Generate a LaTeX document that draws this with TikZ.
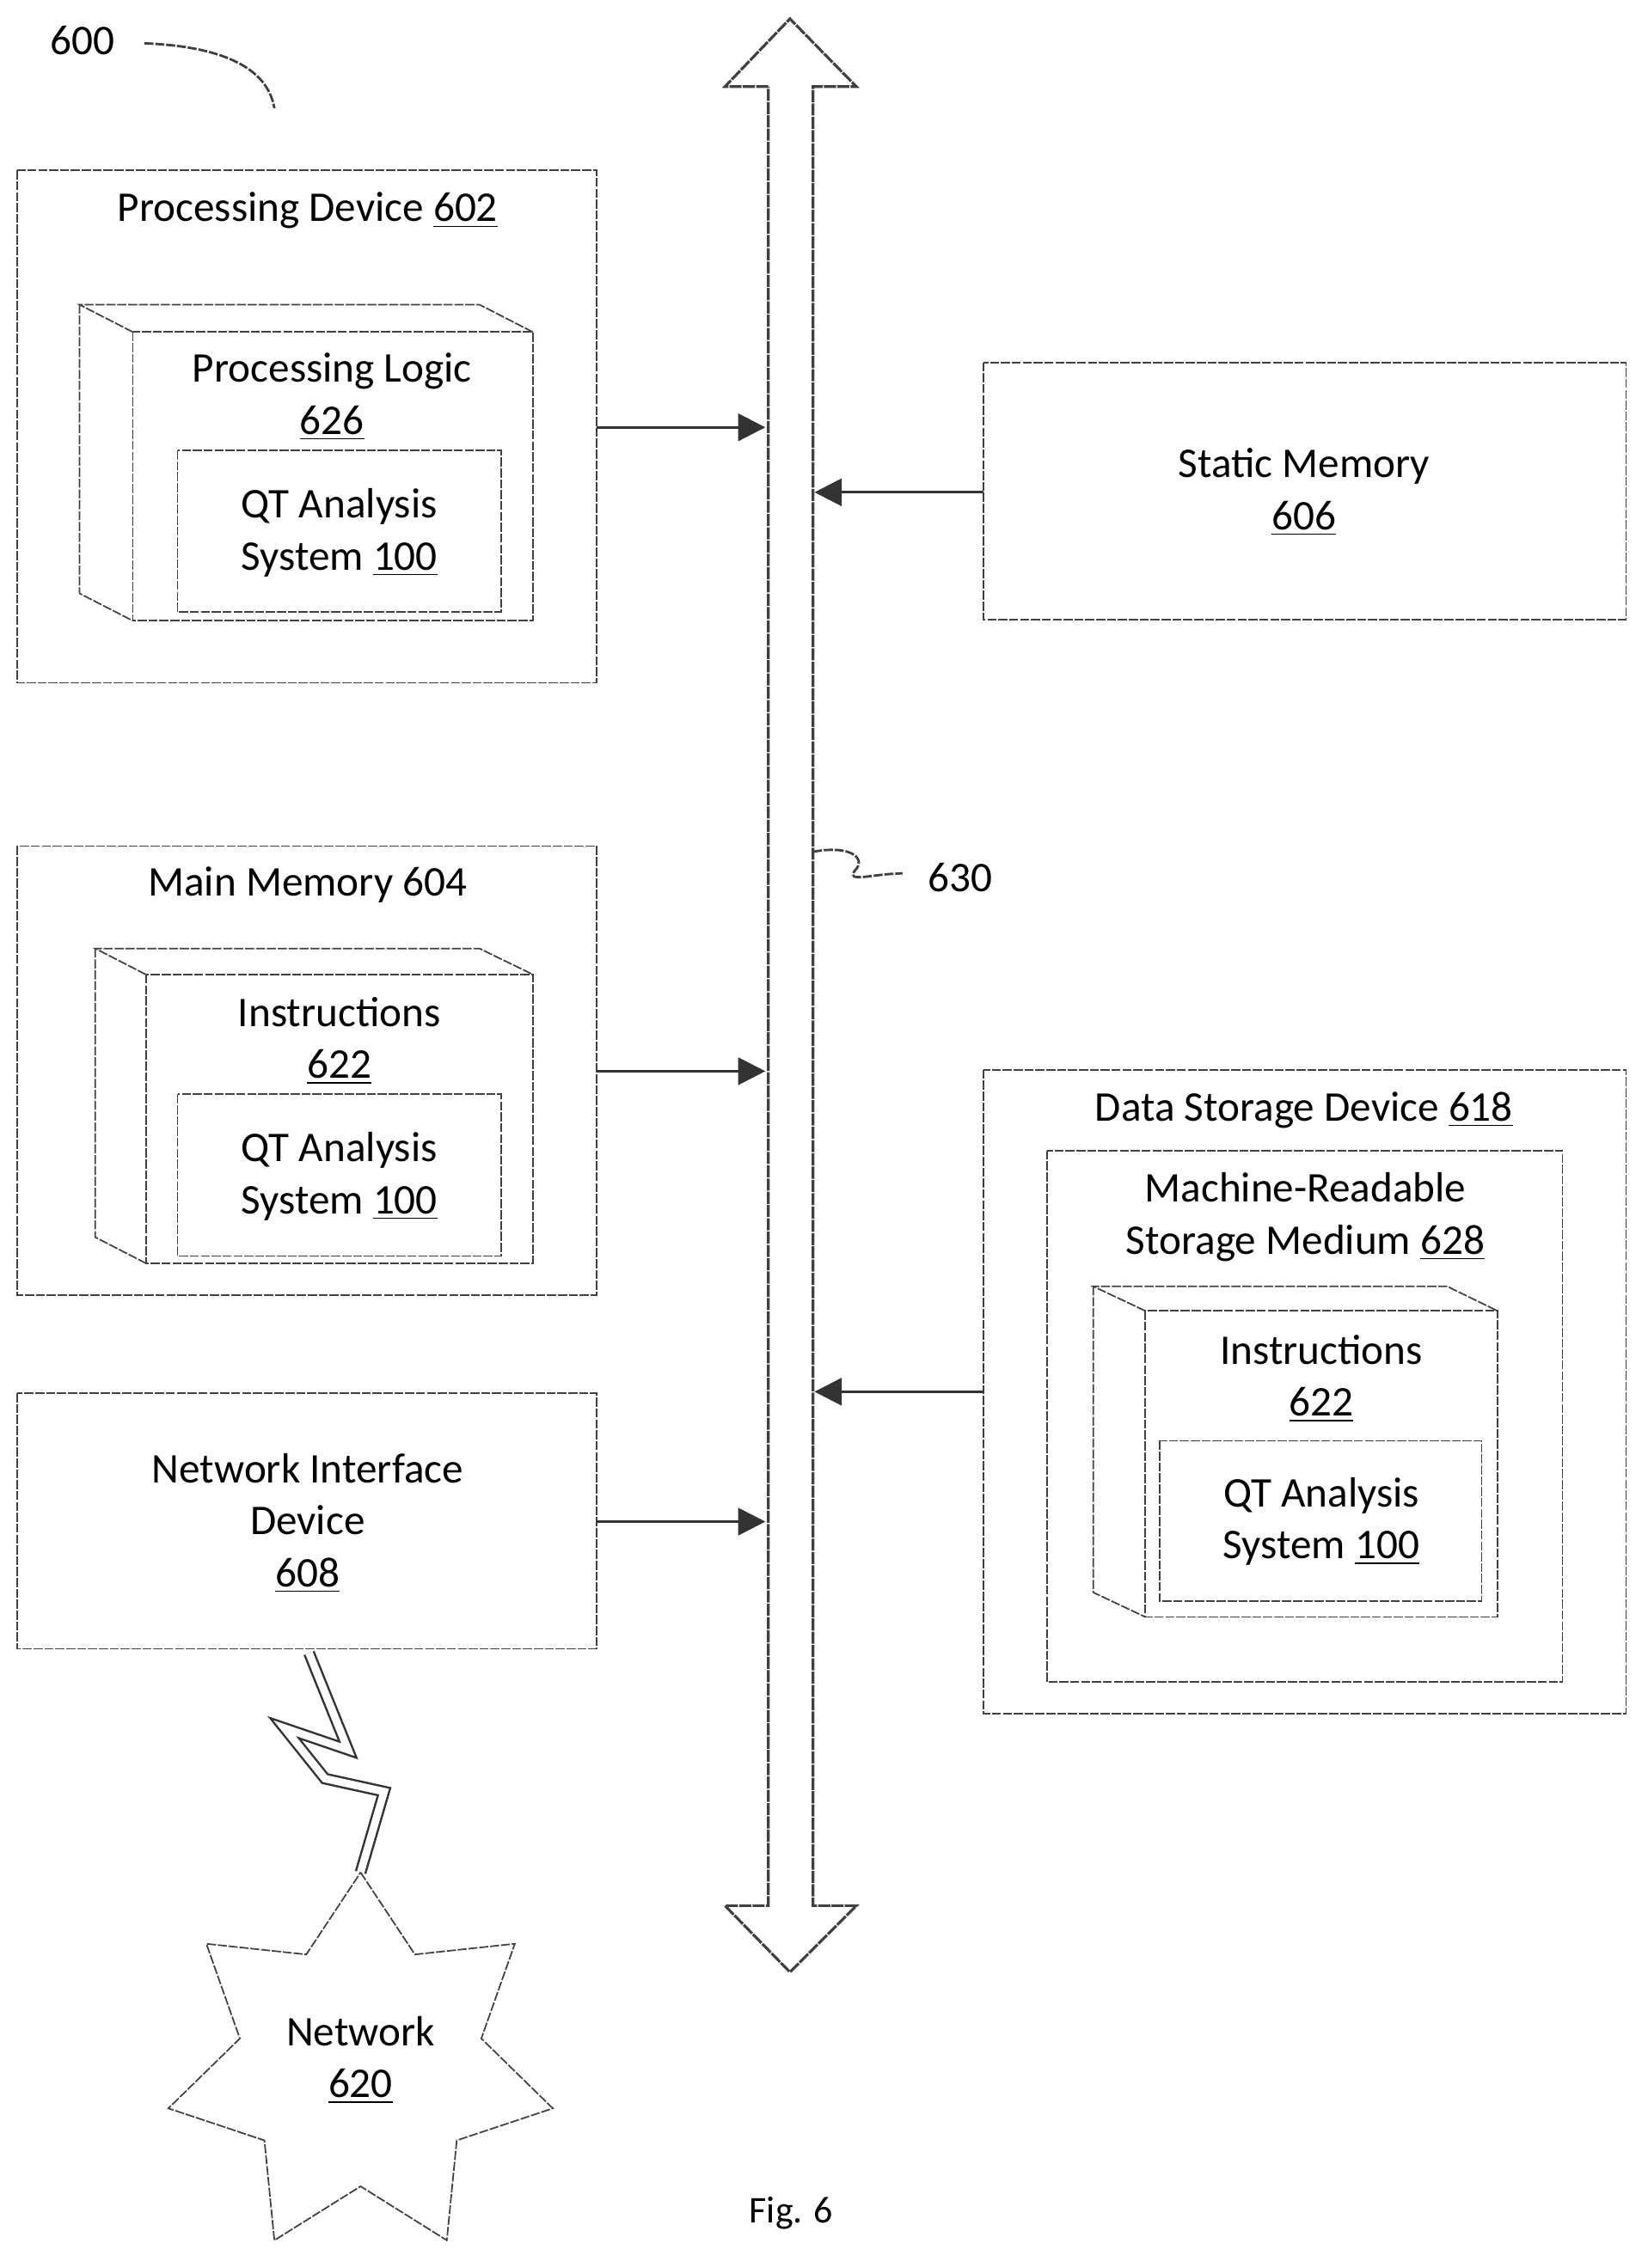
\documentclass[tikz,border=0pt]{standalone}
\usepackage{fontspec}
\setmainfont{Carlito}
\usetikzlibrary{arrows.meta}
\begin{document}
\begin{tikzpicture}[x=0.0168cm,y=-0.0168cm,
  ln/.style={draw=black!75,line width=0.5pt,dash pattern=on 3pt off 0.6pt},
  txt/.style={font=\fontsize{14}{17.2}\selectfont,align=center,inner sep=0pt},
  conn/.style={draw=black!80,line width=0.9pt,-{Triangle[length=9pt,width=9pt]}}]
\useasboundingbox (0,0) rectangle (1141,1571);
\newcommand{\ul}[1]{\underline{#1}}
% label 600
\node[txt] (l600) at (57,28) {600};
\draw[ln,line width=0.8pt] (100,30) .. controls (150,32) and (185,45) .. (190,75);
% Processing device
\draw[ln] (12,118) rectangle (413,473);
\coordinate (pd) at (413,296);
\node[txt] (pdt) at (213,146) {Processing Device \ul{602}};
\draw[ln] (92,230) rectangle (369,430);
\draw[ln] (92,230) -- (55,211) -- (332,211) -- (369,230);
\draw[ln] (55,211) -- (55,411) -- (92,430);
\node[txt] (plt) at (230,275) {Processing Logic\\\ul{626}};
\draw[ln] (123,312) rectangle (347,424);
\node[txt] (qt1) at (235,369) {QT Analysis\\System \ul{100}};
% Static memory
\draw[ln] (681,251) rectangle (1126,429);
\node[txt] (smt) at (903,341) {Static Memory\\\ul{606}};
% Main memory
\draw[ln] (12,586) rectangle (413,897);
\node[txt] (mmt) at (213,613) {Main Memory 604};
\draw[ln] (101,675) rectangle (369,875);
\draw[ln] (101,675) -- (66,657) -- (332,657) -- (369,675);
\draw[ln] (66,657) -- (66,857) -- (101,875);
\node[txt] (ins1) at (235,721) {Instructions\\\ul{622}};
\draw[ln] (123,758) rectangle (347,870);
\node[txt] (qt2) at (235,815) {QT Analysis\\System \ul{100}};
% Network interface
\draw[ln] (12,965) rectangle (413,1142);
\node[txt] (nit) at (213,1055) {Network Interface\\Device\\\ul{608}};
% Data storage
\draw[ln] (681,741) rectangle (1126,1187);
\node[txt] (dst) at (903,769) {Data Storage Device \ul{618}};
\draw[ln] (725,797) rectangle (1082,1165);
\node[txt] (mrt) at (904,843) {Machine-Readable\\Storage Medium \ul{628}};
\draw[ln] (793,908) rectangle (1037,1120);
\draw[ln] (793,908) -- (757,891) -- (1002,891) -- (1037,908);
\draw[ln] (757,891) -- (757,1103) -- (793,1120);
\node[txt] (ins2) at (915,955) {Instructions\\\ul{622}};
\draw[ln] (803,998) rectangle (1026,1109);
\node[txt] (qt3) at (915,1054) {QT Analysis\\System \ul{100}};
% Bus
\draw[ln,line width=0.9pt,dash pattern=on 4pt off 0.4pt] (532,60) -- (502,60) -- (547,13) -- (593,60) -- (563,60)
  -- (563,1320) -- (593,1320) -- (547,1366) -- (502,1320) -- (532,1320) -- cycle;
\coordinate (bl1) at (530,296); \coordinate (bl2) at (530,742); \coordinate (bl3) at (530,1054);
\coordinate (br1) at (564,341); \coordinate (br2) at (564,964);
\coordinate (pd2) at (413,742); \coordinate (ni2) at (413,1054);
\coordinate (sm2) at (681,341); \coordinate (ds2) at (681,964);
\draw[conn] (pd) -- (bl1);
\draw[conn] (pd2) -- (bl2);
\draw[conn] (ni2) -- (bl3);
\draw[conn] (sm2) -- (br1);
\draw[conn] (ds2) -- (br2);
% 630
\node[txt] (l630) at (665,608) {630};
\draw[ln,line width=0.8pt] (563,590) .. controls (590,585) and (600,595) .. (592,603) .. controls (585,612) and (605,605) .. (625,605);
% lightning
\draw[black!80,double=white,double distance=2.5pt,line width=0.7pt,line join=miter]
  (214,1145) -- (241,1212) -- (197,1197) -- (225,1232) -- (266,1241) -- (249.7,1297);
% star
\node[txt] (net) at (249.7,1427) {Network\\\ul{620}};
\draw[ln] (249.7,1297) -- (287.3,1353.8) -- (356.5,1346.4) -- (333.3,1412) -- (382.8,1460.4)
  -- (316.3,1482.6) -- (309.4,1551.8) -- (249.7,1514.4) -- (190,1551.8) -- (183.1,1482.6)
  -- (116.6,1460.4) -- (166.1,1412) -- (142.9,1346.4) -- (212.1,1353.8) -- cycle;
\node[txt,font=\fontsize{12.5}{15}\selectfont] (fig) at (548,1533) {Fig. 6};
\end{tikzpicture}
\end{document}
